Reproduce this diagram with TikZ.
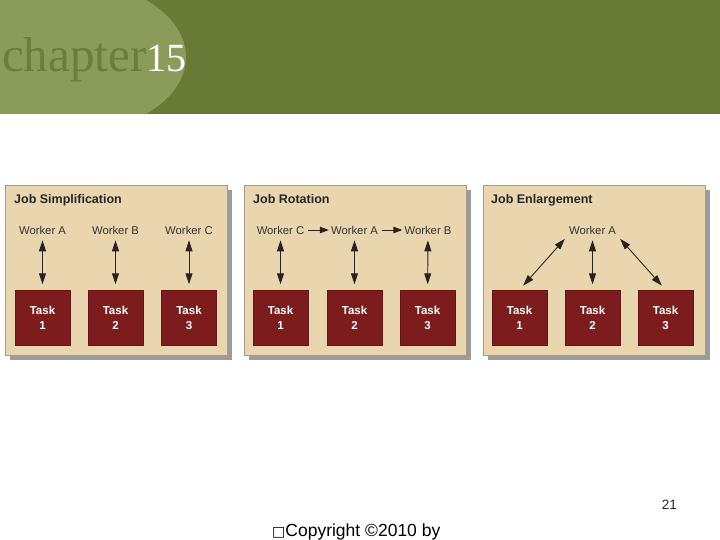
\documentclass[tikz,border=0pt]{standalone}
\usepackage{fontspec}
\setmainfont{Liberation Sans}
\newfontfamily\chapfont{Liberation Serif}
\newfontfamily\symfont{DejaVu Sans}
\usetikzlibrary{arrows.meta}
\definecolor{hdark}{HTML}{687A35}
\definecolor{hlight}{HTML}{8B9B5A}
\definecolor{chaptxt}{HTML}{6C7E3B}
\definecolor{beige}{HTML}{E9D6AE}
\definecolor{pborder}{HTML}{A8998A}
\definecolor{shadowgray}{HTML}{9C9C9C}
\definecolor{taskred}{HTML}{7D1C1C}
\definecolor{arrowdark}{HTML}{2A2222}
\tikzset{
  panel/.style={fill=beige, draw=pborder, line width=0.8pt},
  pshadow/.style={fill=shadowgray},
  ptitle/.style={anchor=base west, inner sep=0pt, font=\bfseries\fontsize{12.5}{14}\selectfont, text=black!85},
  worker/.style={inner sep=0pt, font=\fontsize{11.3}{13}\selectfont, text=black!80},
  taskbox/.style={fill=taskred, draw=taskred!80!black, minimum width=55pt, minimum height=55pt, inner sep=0pt,
    text=white, font=\bfseries\fontsize{11.5}{15}\selectfont, align=center},
  dbl/.style={{Triangle[length=11pt,width=7pt]}-{Triangle[length=11pt,width=7pt]}, draw=arrowdark, line width=0.9pt,
    shorten <=6pt, shorten >=5.5pt},
  rarr/.style={-{Triangle[length=9pt,width=6.5pt]}, draw=arrowdark, line width=0.9pt, shorten <=3.5pt, shorten >=2pt}
}
\begin{document}
\begin{tikzpicture}[x=1pt,y=-1pt]
\useasboundingbox (0,0) rectangle (720,540);
\fill[white] (0,0) rectangle (720,540);
% header
\fill[hdark] (0,0) rectangle (720,114);
\begin{scope}
  \clip (0,0) rectangle (720,114);
  \fill[hlight] (60,57) ellipse [x radius=126, y radius=78];
\end{scope}
\node[anchor=base west, inner sep=0pt, text=chaptxt, font=\chapfont\fontsize{49}{50}\selectfont] (chap) at (2,72) {chapter};
\node[anchor=base west, inner sep=0pt, text=white, font=\chapfont\fontsize{40}{40}\selectfont] (num) at (chap.base east) {15};

% panels
\foreach \px in {5,244,483} {
  \fill[pshadow] (\px+5,190) rectangle (\px+227,360);
  \draw[panel] (\px,185) rectangle (\px+222,355);
}

% Panel 1: Job Simplification
\node[ptitle] (t1) at (14,204) {Job Simplification};
\node[worker] (s1a) at (42.5,230) {Worker A};
\node[worker] (s1b) at (115.5,230) {Worker B};
\node[worker] (s1c) at (189,230) {Worker C};
\node[taskbox] (s1t1) at (42.5,317.5) {Task\\1};
\node[taskbox] (s1t2) at (115.5,317.5) {Task\\2};
\node[taskbox] (s1t3) at (189,317.5) {Task\\3};
\draw[dbl] (s1a) -- (s1t1);
\draw[dbl] (s1b) -- (s1t2);
\draw[dbl] (s1c) -- (s1t3);

% Panel 2: Job Rotation
\node[ptitle] (t2) at (253,204) {Job Rotation};
\node[worker] (r1c) at (280.5,230) {Worker C};
\node[worker] (r1a) at (354.5,230) {Worker A};
\node[worker] (r1b) at (428,230) {Worker B};
\node[taskbox] (r1t1) at (280.5,317.5) {Task\\1};
\node[taskbox] (r1t2) at (354.5,317.5) {Task\\2};
\node[taskbox] (r1t3) at (427.5,317.5) {Task\\3};
\draw[rarr] (r1c) -- (r1a);
\draw[rarr] (r1a) -- (r1b);
\draw[dbl] (r1c) -- (r1t1);
\draw[dbl] (r1a) -- (r1t2);
\draw[dbl] (r1b) -- (r1t3);

% Panel 3: Job Enlargement
\node[ptitle] (t3) at (491,204) {Job Enlargement};
\node[worker] (e1a) at (592.5,230) {Worker A};
\node[taskbox] (e1t1) at (519.5,317.5) {Task\\1};
\node[taskbox] (e1t2) at (592.5,317.5) {Task\\2};
\node[taskbox] (e1t3) at (665.5,317.5) {Task\\3};
\draw[dbl] (e1a.south west) -- (e1t1.north);
\draw[dbl] (e1a) -- (e1t2);
\draw[dbl] (e1a.south east) -- (e1t3.north);

% footer
\node[anchor=base east, inner sep=0pt, font=\fontsize{13.5}{15}\selectfont, text=black!85] (pg) at (677,509) {21};
\node[anchor=base west, inner sep=0pt, font=\fontsize{17.5}{19}\selectfont] (copy) at (272,536) {{\symfont\fontsize{14}{16}\selectfont □}Copyright ©2010 by};
\end{tikzpicture}
\end{document}
